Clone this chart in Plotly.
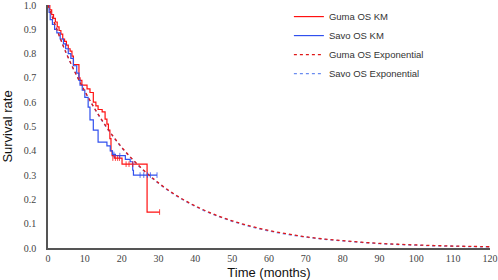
import plotly.graph_objects as go

# Kaplan-Meier step data
guma_t = [0, 0.5, 1, 1.5, 2, 2.5, 3, 3.5, 4, 4.5, 5, 5.5, 6, 6.5, 6.9, 8.4, 8.7, 9.2, 10.6, 11.4, 12.3,
          13.0, 13.6, 14.7, 15.5, 16.0, 16.4, 16.8, 17.1, 17.4, 18.0, 20.1, 26.9, 30.3]
guma_s = [1.0, 0.98, 0.96, 0.945, 0.93, 0.91, 0.895, 0.88, 0.86, 0.85, 0.835, 0.82, 0.81, 0.79, 0.755, 0.70,
          0.69, 0.67, 0.655, 0.64, 0.60, 0.585, 0.57, 0.56, 0.53, 0.51, 0.485, 0.45, 0.40, 0.38, 0.37, 0.345,
          0.148, 0.148]
guma_cens_t = [17.6, 18.3, 18.9, 19.4, 21.2, 22.0, 23.0, 30.3]
guma_cens_s = [0.37, 0.37, 0.37, 0.37, 0.345, 0.345, 0.345, 0.148]

savo_t = [0, 0.3, 0.6, 1.2, 1.8, 2.4, 3.3, 4.2, 4.8, 5.5, 6.2, 6.9, 7.8, 8.4, 8.7, 9.3, 10.0, 10.9, 11.4,
          12.3, 13.6, 16.0, 16.9, 17.5, 18.3, 21.0, 22.3, 23.0, 23.2, 29.6]
savo_s = [1.0, 0.97, 0.94, 0.92, 0.90, 0.885, 0.86, 0.84, 0.82, 0.80, 0.78, 0.75, 0.72, 0.69, 0.67, 0.65,
          0.62, 0.58, 0.527, 0.485, 0.436, 0.42, 0.40, 0.385, 0.38, 0.365, 0.355, 0.32, 0.30, 0.30]
savo_cens_t = [17.9, 19.5, 25.0, 26.0, 27.0, 27.8, 29.6]
savo_cens_s = [0.385, 0.38, 0.30, 0.30, 0.30, 0.30, 0.30]

# Exponential fit curves
exp_t = [0, 5, 10, 15, 20, 25, 30, 35, 40, 45, 50, 55, 60, 65, 70, 75, 80, 85, 90, 95, 100, 105, 110, 115, 120]
guma_exp = [1.0, 0.80, 0.645, 0.518, 0.415, 0.334, 0.268, 0.215, 0.173, 0.139, 0.112, 0.090, 0.072,
            0.058, 0.046, 0.037, 0.030, 0.024, 0.019, 0.0155, 0.0125, 0.010, 0.008, 0.0065, 0.0052]
savo_exp = [1.0, 0.80, 0.644, 0.516, 0.413, 0.332, 0.266, 0.213, 0.171, 0.137, 0.110, 0.088, 0.070,
            0.056, 0.045, 0.036, 0.029, 0.023, 0.018, 0.0145, 0.0115, 0.009, 0.0072, 0.0058, 0.0046]

x_ticks = [0, 10, 20, 30, 40, 50, 60, 70, 80, 90, 100, 110, 120]
y_ticks = [0.0, 0.1, 0.2, 0.3, 0.4, 0.5, 0.6, 0.7, 0.8, 0.9, 1.0]

RED = "#ff1010"
BLUE = "#3050ee"
BLUE_D = "#6a8cf0"
SANS = "Liberation Sans, Arial, sans-serif"
SERIF = "Liberation Serif, Times New Roman, serif"

fig = go.Figure()
fig.add_trace(go.Scatter(x=guma_t, y=guma_s, mode="lines", line=dict(color=RED, width=1.2, shape="hv"),
                         name="Guma OS KM", legendrank=1))
fig.add_trace(go.Scatter(x=savo_t, y=savo_s, mode="lines", line=dict(color=BLUE, width=1.2, shape="hv"),
                         name="Savo OS KM", legendrank=2))
fig.add_trace(go.Scatter(x=exp_t, y=savo_exp, mode="lines",
                         line=dict(color=BLUE_D, width=1.3, dash="3px,3px", shape="spline"),
                         name="Savo OS Exponential", legendrank=4))
fig.add_trace(go.Scatter(x=exp_t, y=guma_exp, mode="lines",
                         line=dict(color="#e01818", width=1.3, dash="3px,3px", shape="spline"),
                         name="Guma OS Exponential", legendrank=3))
fig.add_trace(go.Scatter(x=guma_cens_t, y=guma_cens_s, mode="markers", showlegend=False,
                         marker=dict(symbol="line-ns", size=4, line=dict(color=RED, width=0.8))))
fig.add_trace(go.Scatter(x=savo_cens_t, y=savo_cens_s, mode="markers", showlegend=False,
                         marker=dict(symbol="line-ns", size=4, line=dict(color=BLUE, width=0.8))))

fig.update_layout(
    width=498, height=280,
    margin=dict(l=48, r=8, t=5, b=32, autoexpand=False),
    plot_bgcolor="white", paper_bgcolor="white",
    showlegend=True,
    legend=dict(x=0.545, y=1.012, xanchor="left", yanchor="top", bgcolor="rgba(0,0,0,0)",
                font=dict(family=SANS, size=9.5, color="#333"),
                tracegroupgap=0, itemwidth=30),
    xaxis=dict(range=[0, 120], tickvals=x_ticks, ticktext=[str(v) for v in x_ticks],
               showgrid=False, zeroline=False, showline=True, linecolor="#555", linewidth=1.5,
               ticks="", ticklabeloverflow="allow", automargin=False,
               tickfont=dict(family=SERIF, size=10, color="#444"),
               title=dict(text="Time (months)",
                          font=dict(family=SANS, size=13, color="#111"))),
    yaxis=dict(range=[0, 1.0], tickvals=y_ticks, ticktext=[f"{v:.1f}" for v in y_ticks],
               showgrid=False, zeroline=False, showline=True, linecolor="#555", linewidth=1.5,
               ticks="", ticklabelstandoff=8, ticklabeloverflow="allow", automargin=False,
               tickfont=dict(family=SERIF, size=10, color="#444"),
               title=dict(text="Survival rate",
                          font=dict(family=SANS, size=13, color="#111"))),
)

fig.write_html("out.html", config={"displayModeBar": False},
               post_script="document.body.style.margin='0';document.body.style.overflow='hidden';")
